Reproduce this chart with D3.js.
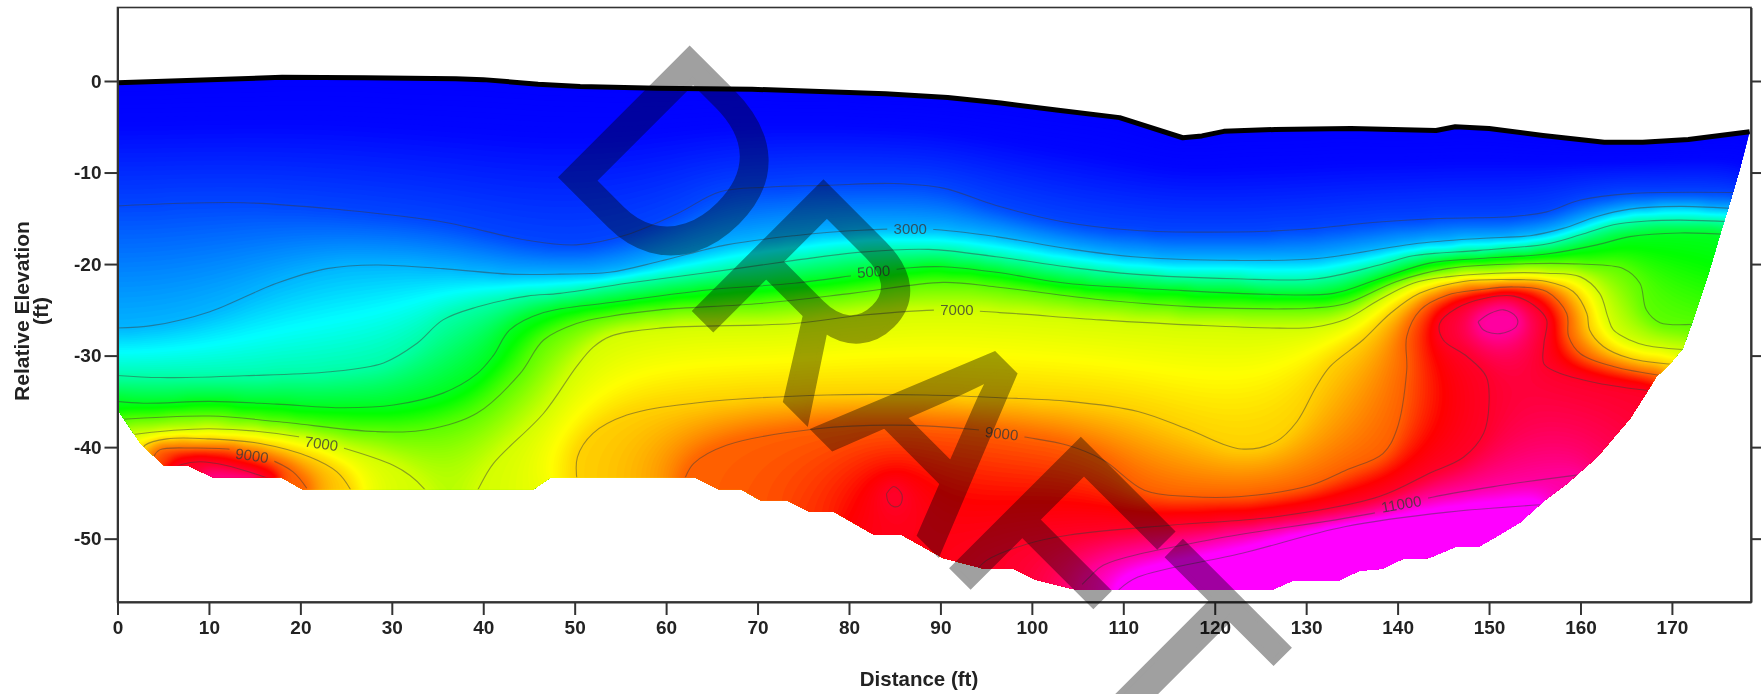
<!DOCTYPE html>
<html><head><meta charset="utf-8">
<script src="https://cdn.jsdelivr.net/npm/d3@7/dist/d3.min.js"></script>
<style>
html,body{margin:0;padding:0;background:#fff}
svg{display:block}
text{font-family:"Liberation Sans",Arial,sans-serif}
.axis text{font-weight:bold;font-size:19px;fill:#222}
.axis path,.axis line{stroke:#333;stroke-width:2}
</style></head><body>
<svg id="chart" width="1761" height="694"></svg>
<script>
// --- [distance ft, relative elevation ft] ---
const xTicks=[0,10,20,30,40,50,60,70,80,90,100,110,120,130,140,150,160,170];
const yTicks=[0,-10,-20,-30,-40,-50];
const surface=[[0,-0.2],[18,0.4],[27,0.35],[37,0.25],[40,0.15],[46,-0.35],[50.6,-0.6],[59,-0.8],[69.4,-0.9],[84,-1.4],[90.8,-1.8],[96.6,-2.4],[102.9,-3.2],[109.6,-4.0],[116.5,-6.2],[118.6,-6.0],[121,-5.5],[126.6,-5.3],[134.9,-5.2],[144.2,-5.4],[146.3,-5.0],[150,-5.2],[155.9,-5.95],[162.6,-6.7],[166.8,-6.7],[171.8,-6.4],[178.5,-5.55]];
const lowerEdge=[[178.5,-5.55],[177.4,-9.7],[176.3,-13.4],[175.2,-17],[174.1,-20.7],[172.7,-25],[171.2,-29.2],[169.8,-30.9],[168.3,-32.3],[167.2,-34.1],[165.4,-36.9],[161.8,-41.1],[158.5,-44],[156.1,-45.8],[153.4,-48.2],[150.9,-49.7],[148.8,-50.9],[146.3,-50.9],[143.4,-52.1],[140.6,-52.2],[138.3,-53.3],[135.8,-53.5],[133.5,-54.6],[128.5,-54.6],[126.2,-55.6],[105,-55.6],[100.4,-54.5],[98,-53.3],[94.8,-53.3],[90.3,-52.1],[85.8,-49.6],[82.8,-49.6],[78.4,-47.1],[75.7,-47.1],[73.2,-45.8],[70.3,-45.8],[68.2,-44.6],[65.7,-44.6],[63.1,-43.3],[47.4,-43.3],[45.5,-44.6],[20.2,-44.6],[17.9,-43.3],[10.4,-43.3],[7.7,-42],[5.1,-42],[2.6,-39.7],[0,-35.9]];

const c2000=[[-1,-13.7],[13.8,-13.3],[24.7,-14.1],[35.6,-15.4],[44.8,-17.4],[50.2,-17.9],[55.7,-16.8],[61.2,-14.5],[65.9,-12.1],[71,-11.6],[77.6,-11.4],[84.9,-11.2],[90.3,-11.7],[96.1,-13.6],[103.5,-15.4],[111.1,-16.3],[122.1,-16.5],[129.7,-16.2],[138,-15.4],[145.4,-15],[152.7,-14.8],[156.3,-14.3],[160,-13],[165.4,-12.3],[178,-12.2]];
const c3000=[[-1,-27],[3.9,-26.7],[10.1,-25.2],[17.4,-22.1],[22.9,-20.5],[28.3,-20.1],[35.6,-20.5],[42.9,-21.1],[48.4,-21.1],[53.8,-20.9],[59.3,-19.7],[66.6,-17.9],[74,-16.9],[81.3,-16.3],[88.7,-16.2],[96.1,-17],[103.8,-18.3],[111.1,-19.2],[122.1,-19.6],[131.2,-19.4],[141.7,-17.8],[149,-17.2],[154.5,-16.9],[158.1,-16.1],[161.8,-14.8],[165.4,-14],[170.9,-13.7],[177.5,-14]];
const c4000=[[-1,-32.1],[4.7,-32.4],[13.8,-32.2],[22.9,-31.8],[29.1,-30.8],[32.7,-28.7],[35.6,-26.1],[39.3,-24.7],[44.8,-23.5],[48.4,-23.2],[55.7,-22.1],[64.8,-20.9],[74,-19.6],[81.3,-18.7],[88.7,-18.4],[96.1,-19.2],[103.8,-20.3],[111.1,-21.1],[122.1,-21.6],[131.2,-21.6],[138,-20.1],[141.7,-19.1],[149,-18.5],[156.3,-17.8],[160,-16.8],[163.6,-15.7],[167.3,-15.3],[170.9,-15.2],[177,-15.4]];
const c5000=[[-1,-34.9],[2.8,-35.2],[10.1,-35],[17.4,-35.3],[24.7,-35.7],[30.2,-35.4],[35.6,-34.1],[39.3,-32],[41.1,-30],[42.9,-27.2],[46.6,-25.3],[53.9,-24.2],[64.8,-22.8],[74,-22.1],[80.9,-21.2],[86.7,-20.4],[90.3,-20.3],[96.1,-20.9],[103.8,-22.1],[114.8,-22.8],[125.7,-23.3],[133,-23.2],[138,-21.6],[143.5,-19.9],[149,-19.4],[156.3,-18.9],[161.8,-17.9],[165.4,-17],[170.9,-16.6],[176.5,-16.8]];
const c6000=[[0,-37],[10.1,-36.6],[17.4,-37.2],[28.3,-38.3],[33.8,-38.1],[39.3,-36.3],[44,-32],[46.6,-28.3],[50.2,-26.5],[53.9,-25.7],[59.3,-25],[70.3,-24.3],[80.3,-23.2],[90.3,-22],[96.1,-22.5],[107.5,-23.9],[118.4,-24.7],[127.5,-24.9],[130.8,-24.8],[134.4,-24.3],[139.9,-21.9],[145.4,-20.5],[152.7,-20],[160,-20],[164.7,-20.5],[166.5,-22.1],[167.2,-25],[168.7,-26.4],[173.5,-26.5]];
const c7000a=[[1,-38.7],[10.1,-38],[20,-38.9],[24.7,-40.1],[30.2,-42],[32,-43.1],[33.5,-44.5],[34.2,-45.5]];
const c7000b=[[39,-45.5],[39.5,-44.5],[41.1,-41.8],[46.6,-36.3],[50.2,-31.2],[52,-29.1],[53.9,-27.9],[59.3,-27],[74,-26.5],[81.3,-25.6],[90.1,-25],[96.5,-25.3],[107.5,-26.1],[118.4,-26.7],[127.1,-27],[130.8,-26.9],[134.4,-26],[138,-23.9],[141.7,-22.1],[145.4,-21.4],[150.8,-21],[156.3,-21],[160,-21.4],[162.1,-23.2],[163,-25.8],[163.6,-27.2],[165.4,-28.3],[167.2,-28.9],[172,-29.4]];
const c8000a=[[2.6,-40.5],[3,-39.8],[5.4,-39.1],[10.1,-39.1],[15.6,-39.6],[21.1,-41.1],[24,-42.7],[25.4,-44.5],[25.8,-45.5]];
const c8000b=[[50.3,-44],[50.3,-41.1],[52,-38.5],[55.7,-36.5],[63,-35.2],[77.6,-34.3],[88.5,-34.3],[96.5,-34.6],[104.1,-35],[111.6,-36.1],[117.2,-38.1],[122.9,-40.2],[126.7,-39.4],[129,-37.2],[131.1,-33.4],[132.6,-31.2],[136.2,-28.3],[139.2,-25.4],[142.4,-23.2],[147.2,-21.9],[152.7,-21.7],[156.3,-21.9],[159.2,-23],[160.7,-25.4],[161,-27.2],[162.5,-29],[165.4,-30.3],[170.5,-31]];
const c9000a=[[4,-41],[4.6,-40.3],[8.3,-40.1],[12.8,-40.3],[16.3,-41.2],[19.2,-42.7],[20.7,-44.5]];
const c9000b=[[61.8,-44],[62.1,-43.3],[63,-41.8],[66.6,-39.8],[76.5,-38],[84.9,-37.6],[94,-38.1],[99.2,-38.9],[103.9,-39.8],[107.8,-41.4],[112.3,-44.7],[117.2,-45.4],[122.9,-45.4],[130.4,-44.2],[134.4,-42.5],[138.4,-40.7],[139.9,-38.1],[141,-31.6],[141,-27.9],[142.5,-25],[145.4,-23.4],[149,-22.8],[152.7,-22.5],[156.3,-23],[158.5,-25.4],[158.7,-27.9],[160,-29.8],[163.6,-31.2],[169,-32.2]];
const c10000a=[[6,-42.4],[7,-41.9],[9,-41.6],[11.9,-42],[15.6,-43.1],[17,-43.6]];
const c10000b=[[94,-53.4],[95,-52.4],[99.4,-50.6],[104.1,-49.6],[115.4,-48.5],[126.7,-47.6],[138,-45.4],[143.6,-42.8],[147.2,-41.1],[149.4,-38.5],[150,-35.2],[149.7,-32.3],[147.6,-30.1],[145,-28.3],[144.6,-26.5],[146.5,-24.8],[149.7,-23.7],[152.7,-23.5],[154.9,-24.5],[156.3,-26.1],[156,-28.7],[156,-30.9],[157.4,-31.8],[161.8,-33],[168,-33.9]];
const c10000c=[[84.1,-45.1],[84.9,-44.3],[85.8,-45.2],[85.6,-46.3],[84.9,-46.5],[84.3,-46],[84.1,-45.1]];
const c11000a=[[105.5,-55],[106.3,-54.2],[107.8,-52.9],[119.1,-50.2],[137.9,-47.1],[143.2,-45.6],[151.2,-44.2],[160,-43]];
const c11000b=[[148.8,-26.3],[150.1,-25.4],[151.6,-25],[153,-25.8],[153,-26.8],[151.2,-27.6],[149.4,-27.2],[148.8,-26.3]];
const c12000=[[109.5,-55.6],[111.6,-54.2],[123,-51.6],[134.2,-48.7],[145.5,-47.1],[155.6,-46.3]];
// colour-only reading of the crimson pocket at the lower left; no line is drawn for it
const pocket10800=[[10,-43.2],[15,-43.2]];

const lineLevels=[2000,3000,4000,5000,6000,7000,7000,8000,8000,9000,9000,10000,10000,10000,11000,11000,12000];
const lineCurves=[c2000,c3000,c4000,c5000,c6000,c7000a,c7000b,c8000a,c8000b,c9000a,c9000b,c10000a,c10000b,c10000c,c11000a,c11000b,c12000];

const labelTexts=["3000","5000","7000","9000","7000","9000","11000"];
const labelAt=[[86.7,-16.1],[82.7,-20.8],[91.8,-25],[96.7,-38.5],[22.3,-39.6],[14.7,-40.9],[140.4,-46.2]];
const labelTilt=[0,-4,0,6,8,8,-10];

const colorValues=[900,1300,2000,3000,3500,4000,5000,5300,6000,7000,7500,8000,9000,9600,10000,11000,11700];
const colorNames=["#0000ff","#0005ff","#0045ff","#00b4ff","#00ffff","#00ffa8","#00ff20","#00ff00","#5cff00","#d4ff00","#ffff00","#ffd000","#ff6000","#ff0000","#ff0028","#ff00a0","#ff00ff"];

// --- scales ---
const plot={l:117.5,r:1751,t:7.5,b:602};
const x=d3.scaleLinear().domain([0,178.65]).range([plot.l,plot.r]);
const y=d3.scaleLinear().domain([8.03,-56.92]).range([plot.t,plot.b]);
const color=d3.scaleLinear().domain(colorValues).range(colorNames).interpolate(d3.interpolateRgb).clamp(true);
const svg=d3.select("#chart");
const line=d3.line().x(d=>x(d[0])).y(d=>y(d[1]));
const curved=d3.line().x(d=>x(d[0])).y(d=>y(d[1])).curve(d3.curveCatmullRom.alpha(0.5));

// --- section outline ---
const outline=surface.concat(lowerEdge);
const outlinePx=outline.map(d=>[x(d[0]),y(d[1])]);
const defs=svg.append("defs");
defs.append("clipPath").attr("id","section").append("path").attr("d",line(outline)+"Z");

// --- value field solved between the read contour lines ---
const cell=3,gw=Math.ceil((plot.r-plot.l)/cell)+1,gh=Math.ceil((plot.b-plot.t)/cell)+1;
const val=new Float64Array(gw*gh),state=new Uint8Array(gw*gh); // 0 outside,1 free,2 pinned
for(let j=0;j<gh;j++)for(let i=0;i<gw;i++){
  const px=plot.l+i*cell,py=plot.t+j*cell;
  if(d3.polygonContains(outlinePx,[px,py])){state[i+j*gw]=1;}
  val[i+j*gw]=Math.max(900,Math.min(12000,900+(py-80)*24));
}
const probe=svg.append("path").attr("fill","none");
function pin(points,level,gen){
  probe.attr("d",gen(points));
  const n=probe.node(),len=n.getTotalLength();
  for(let s=0;s<=len;s+=0.8){
    const p=n.getPointAtLength(s);
    const i=Math.round((p.x-plot.l)/cell),j=Math.round((p.y-plot.t)/cell);
    if(i>=0&&i<gw&&j>=0&&j<gh){state[i+j*gw]=2;val[i+j*gw]=level;}
  }
}
pin(surface,900,line);
lineCurves.forEach((c,k)=>pin(c,lineLevels[k],curved));
pin(pocket10800,10800,line);
probe.remove();
const omega=1.9;
for(let it=0;it<1400;it++){
  for(let j=0;j<gh;j++)for(let i=0;i<gw;i++){
    const a=i+j*gw; if(state[a]!==1)continue;
    let s=0,c=0;
    if(i>0&&state[a-1]){s+=val[a-1];c++}
    if(i<gw-1&&state[a+1]){s+=val[a+1];c++}
    if(j>0&&state[a-gw]){s+=val[a-gw];c++}
    if(j<gh-1&&state[a+gw]){s+=val[a+gw];c++}
    if(c)val[a]+=omega*(s/c-val[a]);
  }
}
// extend the values past the section edge so the clip shows no gap
let pending=true,guard=0;
while(pending&&guard++<900){
  pending=false;
  const add=[];
  for(let j=0;j<gh;j++)for(let i=0;i<gw;i++){
    const a=i+j*gw; if(state[a])continue;
    let s=0,c=0;
    if(i>0&&state[a-1]){s+=val[a-1];c++}
    if(i<gw-1&&state[a+1]){s+=val[a+1];c++}
    if(j>0&&state[a-gw]){s+=val[a-gw];c++}
    if(j<gh-1&&state[a+gw]){s+=val[a+gw];c++}
    if(c)add.push([a,s/c]);else pending=true;
  }
  add.forEach(d=>{val[d[0]]=d[1];state[d[0]]=1;});
}
if(d3.blur2)d3.blur2({data:val,width:gw,height:gh},1);

// --- filled field ---
const step=40,bands=d3.range(900,12001,step);
const contours=d3.contours().size([gw,gh]).thresholds(bands)(Array.from(val));
const fillG=svg.append("g").attr("clip-path","url(#section)");
const bandG=fillG.append("g").attr("transform",`translate(${plot.l-cell/2},${plot.t-cell/2}) scale(${cell})`);
bandG.append("rect").attr("width",gw).attr("height",gh).attr("fill",color(900));
const geo=d3.geoPath();
bandG.selectAll("path").data(contours.filter(c=>c.coordinates.length)).join("path")
  .attr("d",geo).attr("fill",d=>color(d.value+step/2));

// --- contour lines with gaps behind their labels ---
const gap=defs.append("mask").attr("id","gaps").attr("maskUnits","userSpaceOnUse")
  .attr("x",0).attr("y",0).attr("width",1761).attr("height",694);
gap.append("rect").attr("width",1761).attr("height",694).attr("fill","#fff");
labelTexts.forEach((t,i)=>{
  const w=t.length*9+10;
  gap.append("rect").attr("x",-w/2).attr("y",-9).attr("width",w).attr("height",18).attr("fill","#000")
    .attr("transform",`translate(${x(labelAt[i][0])},${y(labelAt[i][1])}) rotate(${labelTilt[i]})`);
});
const lineG=svg.append("g").attr("clip-path","url(#section)").append("g").attr("mask","url(#gaps)");
lineG.selectAll("path").data(lineCurves).join("path")
  .attr("d",curved).attr("fill","none").attr("stroke","#3c3c3c").attr("stroke-opacity",0.48).attr("stroke-width",1.1);
svg.append("g").selectAll("text").data(labelTexts).join("text")
  .attr("transform",(d,i)=>`translate(${x(labelAt[i][0])},${y(labelAt[i][1])}) rotate(${labelTilt[i]})`)
  .attr("text-anchor","middle").attr("dy","0.36em").attr("font-size",15).attr("fill","#3a3a3a").attr("fill-opacity",0.8).text(d=>d);

// --- ground surface ---
svg.append("path").attr("d",line(surface)).attr("fill","none").attr("stroke","#000").attr("stroke-width",5).attr("stroke-linejoin","round");

// --- axes and frame ---
svg.append("rect").attr("x",plot.l).attr("y",plot.t).attr("width",plot.r-plot.l).attr("height",plot.b-plot.t)
  .attr("fill","none").attr("stroke","#333").attr("stroke-width",1.6);
const bottomAxis=d3.axisBottom(x).tickValues(xTicks).tickSize(13).tickPadding(6).tickSizeOuter(0);
svg.append("g").attr("class","axis").attr("transform",`translate(0,${plot.b})`).call(bottomAxis);
const leftAxis=d3.axisLeft(y).tickValues(yTicks).tickFormat(d=>String(d)).tickSize(13).tickPadding(3).tickSizeOuter(0);
svg.append("g").attr("class","axis").attr("transform",`translate(${plot.l},0)`).call(leftAxis);
const rightAxis=d3.axisRight(y).tickValues(yTicks).tickSize(10).tickFormat("").tickSizeOuter(0);
svg.append("g").attr("class","axis").attr("transform",`translate(${plot.r},0)`).call(rightAxis);
svg.append("text").attr("x",919).attr("y",686).attr("text-anchor","middle").attr("font-weight","bold").attr("font-size",20.5).attr("fill","#222").text("Distance (ft)");
svg.append("g").attr("transform","translate(29,311) rotate(-90)").call(g=>{
  g.append("text").attr("text-anchor","middle").attr("font-weight","bold").attr("font-size",21).attr("fill","#222").text("Relative Elevation");
  g.append("text").attr("y",19).attr("text-anchor","middle").attr("font-weight","bold").attr("font-size",21).attr("fill","#222").text("(ft)");
});

// --- watermark ---
svg.append("text").attr("transform","translate(547,162) rotate(45)")
  .attr("font-size",262).attr("letter-spacing",0).attr("fill","#a0a0a0").attr("stroke","#a0a0a0").attr("stroke-width",6).attr("stroke-linejoin","miter").style("mix-blend-mode","multiply").text("DRAFT");
</script>
</body></html>
